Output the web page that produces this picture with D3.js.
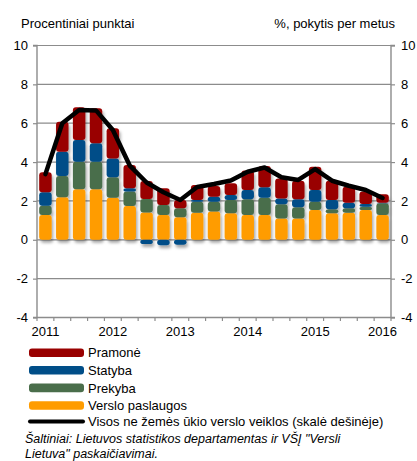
<!DOCTYPE html>
<html><head><meta charset="utf-8">
<script src="https://cdn.jsdelivr.net/npm/d3@7"></script>
<style>
body{margin:0;background:#fff;}
text{font-family:"Liberation Sans",Arial,sans-serif;}
</style></head>
<body><svg id="c" width="417" height="461"></svg>
<script>
const quarters = ["2011K1","2011K2","2011K3","2011K4","2012K1","2012K2","2012K3","2012K4","2013K1","2013K2","2013K3","2013K4","2014K1","2014K2","2014K3","2014K4","2015K1","2015K2","2015K3","2015K4","2016K1"];
const yearLabels = {"2011K1":"2011","2012K1":"2012","2013K1":"2013","2014K1":"2014","2015K1":"2015","2016K1":"2016"};
const verslo  = [1.28,2.19,2.60,2.60,2.17,1.74,1.41,1.28,1.16,1.39,1.45,1.36,1.28,1.28,1.10,1.10,1.53,1.36,1.39,1.53,1.28];
const prekyba = [0.47,1.09,1.42,1.42,1.05,0.74,0.69,0.51,0.46,0.57,0.51,0.69,0.80,0.89,0.73,0.57,0.43,0.21,0.23,0.17,0.60];
const statyba = [0.70,1.25,1.12,0.95,0.97,0.17,-0.22,-0.28,-0.25,0.09,0.26,0.26,0.48,0.53,0.30,0.41,0.60,0.48,0.29,0.14,0.03];
const pramone = [1.03,1.55,1.68,1.80,1.55,1.20,0.93,0.86,0.43,0.77,0.55,0.60,1.00,1.10,1.03,0.96,1.20,0.99,0.82,0.64,0.43];
const visos   = [3.38,6.00,6.68,6.66,5.65,3.82,2.95,2.45,2.05,2.72,2.87,3.05,3.50,3.72,3.22,3.08,3.64,3.04,2.78,2.56,2.15];
const yTicks = [-4,-2,0,2,4,6,8,10];
const seriesNames = ["Pramonė","Statyba","Prekyba","Verslo paslaugos"];
const lineName = "Visos ne žemės ūkio verslo veiklos (skalė dešinėje)";
const colors = {"Verslo paslaugos":"#FF9C00","Prekyba":"#4A6E4B","Statyba":"#004E88","Pramonė":"#990000"};

const svg = d3.select("#c");
const L = 37, R = 391, T = 45.5, B = 317.5;
const x = d3.scaleBand().domain(quarters).range([L,R]).paddingInner(0.26).paddingOuter(0.13);
const y = d3.scaleLinear().domain([-4,10]).range([B,T]);
const y2 = d3.scaleLinear().domain([-4,10]).range([B,T]);

const defs = svg.append("defs");
const f = defs.append("filter").attr("id","sh").attr("x","-30%").attr("y","-30%").attr("width","160%").attr("height","160%");
f.append("feDropShadow").attr("dx",1.5).attr("dy",3).attr("stdDeviation",1.6).attr("flood-color","#000").attr("flood-opacity",0.35);

// gridlines
svg.append("g").selectAll("line").data(yTicks).join("line")
  .attr("x1",L).attr("x2",R).attr("y1",d=>y(d)).attr("y2",d=>y(d))
  .attr("stroke","#8c8c8c").attr("stroke-width",1.2);

// stacked bars
const rows = quarters.map((q,i)=>({q, "Verslo paslaugos":verslo[i], "Prekyba":prekyba[i], "Statyba":statyba[i], "Pramonė":pramone[i]}));
const keys = ["Verslo paslaugos","Prekyba","Statyba","Pramonė"];
const stack = d3.stack().keys(keys).offset(d3.stackOffsetDiverging)(rows);
const bars = svg.append("g").attr("filter","url(#sh)");
stack.forEach(s=>{
  bars.append("g").attr("fill",colors[s.key]).selectAll("rect").data(s).join("rect")
    .attr("x",d=>x(d.data.q)).attr("width",x.bandwidth())
    .attr("y",d=>y(Math.max(d[0],d[1])))
    .attr("height",d=>Math.abs(y(d[0])-y(d[1])))
    .attr("rx",3).attr("ry",3);
});

// axes
const fmt = d => String(d);
const axL = svg.append("g").attr("transform",`translate(${L},0)`)
  .call(d3.axisLeft(y).tickValues(yTicks).tickSize(4).tickPadding(5).tickFormat(fmt));
const axR = svg.append("g").attr("transform",`translate(${R},0)`)
  .call(d3.axisRight(y2).tickValues(yTicks).tickSize(4).tickPadding(6).tickFormat(fmt));
const axB = svg.append("g").attr("transform",`translate(0,${B})`)
  .call(d3.axisBottom(x).tickValues(quarters.filter(q=>yearLabels[q])).tickSize(0).tickPadding(9).tickFormat(q=>yearLabels[q]));
// category boundary ticks
const bounds = d3.range(quarters.length+1).map(i=>L+i*x.step());
svg.append("g").selectAll("line").data(bounds).join("line")
  .attr("x1",d=>d).attr("x2",d=>d).attr("y1",B).attr("y2",B+3.5)
  .attr("stroke","#8c8c8c").attr("stroke-width",1.2);
[axL,axR,axB].forEach(a=>{
  a.selectAll(".domain").attr("stroke","#8c8c8c").attr("stroke-width",1.4);
  a.selectAll(".tick line").attr("stroke","#8c8c8c").attr("stroke-width",1.2);
  a.selectAll("text").attr("font-size",13).attr("fill","#000").attr("font-family","Liberation Sans, Arial, sans-serif");
});
axB.select(".domain").attr("d",`M${L},0H${R}`);
axL.select(".domain").attr("d",`M-4,${T}H0V${B}H-4`);
axR.select(".domain").attr("d",`M4,${T}H0V${B}H4`);

// line
const line = d3.line().x((d,i)=>x(quarters[i])+x.bandwidth()/2).y(d=>y2(d));
svg.append("path").datum(visos).attr("d",line).attr("fill","none")
  .attr("stroke","#000").attr("stroke-width",4.5).attr("stroke-linejoin","round").attr("stroke-linecap","round");

// titles
svg.append("text").attr("x",21).attr("y",28).attr("font-size",13).text("Procentiniai punktai");
svg.append("text").attr("x",395).attr("y",28).attr("font-size",13).attr("text-anchor","end").text("%, pokytis per metus");

// legend
const lg = svg.append("g");
seriesNames.forEach((n,i)=>{
  const cy = 352.7 + i*17.6;
  lg.append("rect").attr("x",29).attr("y",cy-4.3).attr("width",55).attr("height",8.6).attr("rx",3).attr("fill",colors[n]);
  lg.append("text").attr("x",88).attr("y",cy+4.6).attr("font-size",13).text(n);
});
const ly = 352.7 + 4*17.2;
lg.append("line").attr("x1",30).attr("x2",83).attr("y1",ly).attr("y2",ly).attr("stroke","#000").attr("stroke-width",4).attr("stroke-linecap","round");
lg.append("text").attr("x",88).attr("y",ly+4.6).attr("font-size",13).text(lineName);

svg.append("text").attr("x",25).attr("y",443).attr("font-size",12.5).attr("font-style","italic").text("Šaltiniai: Lietuvos statistikos departamentas ir VŠĮ \"Versli");
svg.append("text").attr("x",25).attr("y",458).attr("font-size",12.5).attr("font-style","italic").text("Lietuva\" paskaičiavimai.");
</script></body></html>
